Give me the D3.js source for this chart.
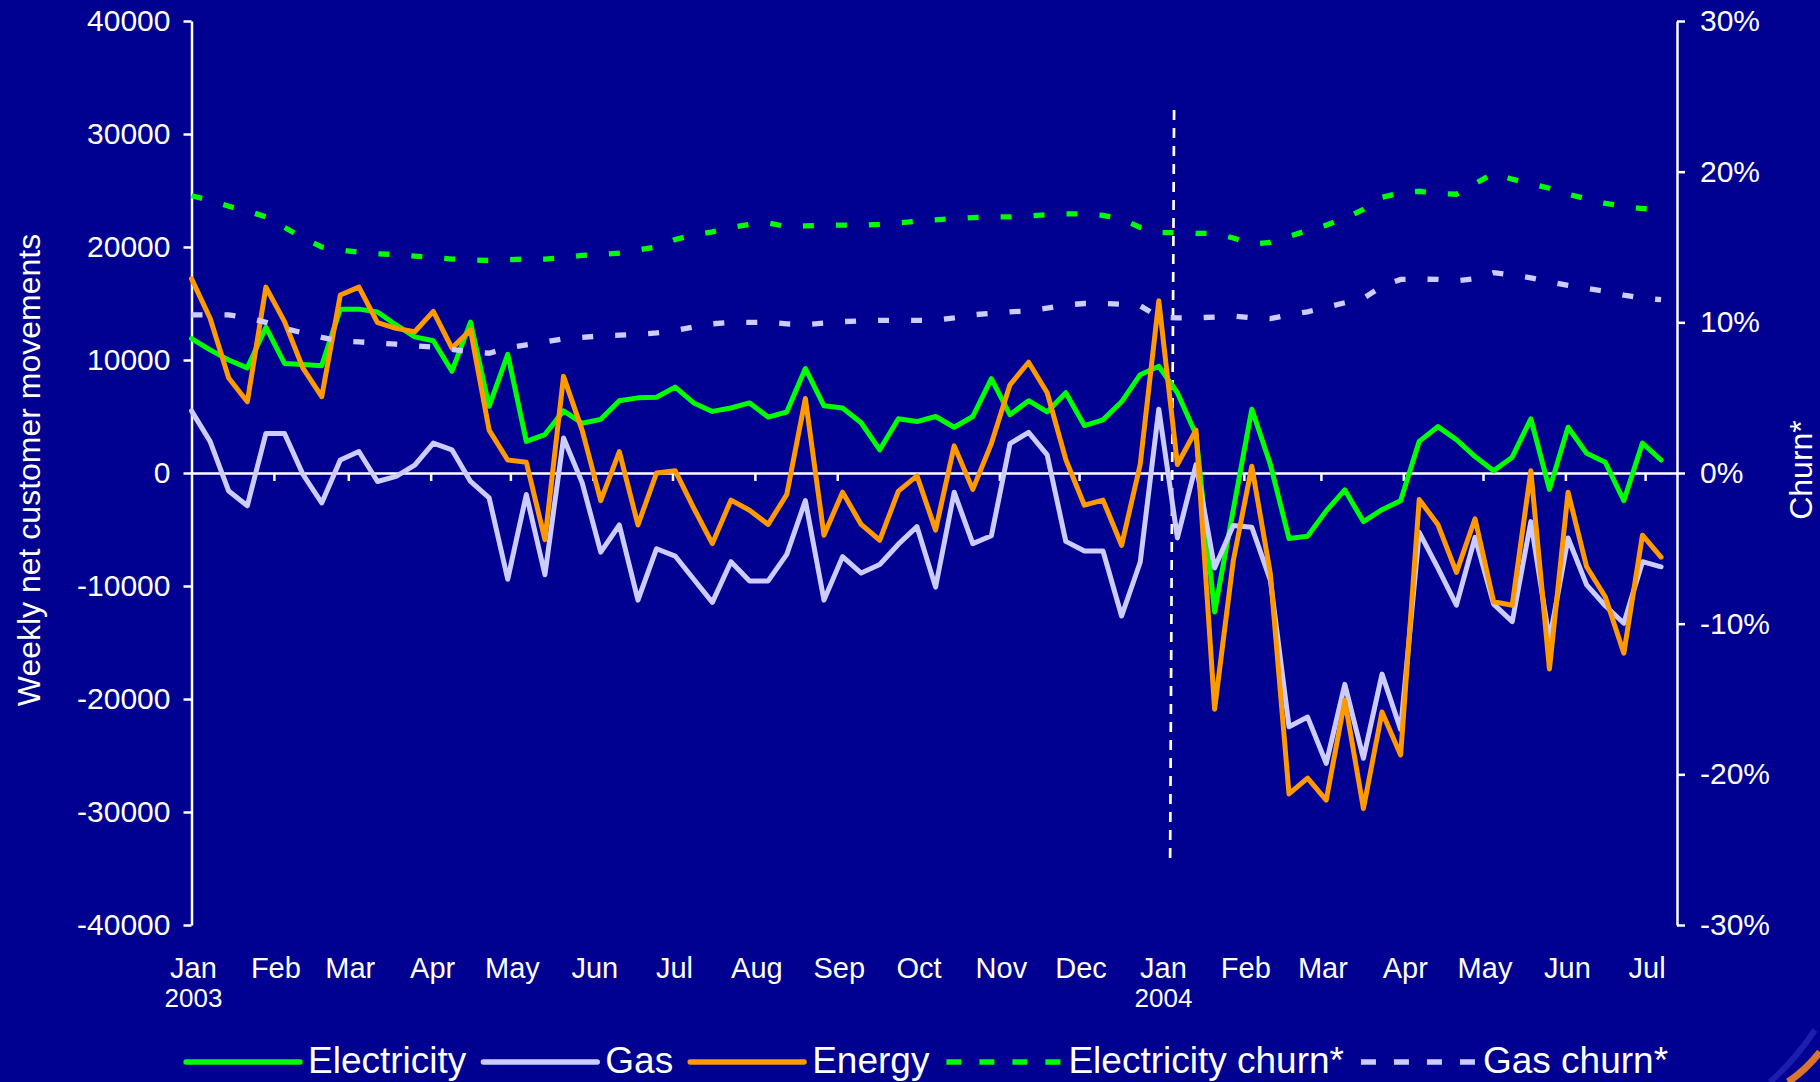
<!DOCTYPE html>
<html><head><meta charset="utf-8">
<script src="https://cdn.jsdelivr.net/npm/d3@7"></script>
<style>
html,body{margin:0;padding:0;background:#000091;overflow:hidden;}
svg{display:block;}
text{font-family:"Liberation Sans",Arial,Helvetica,sans-serif;fill:#ffffff;}
</style></head><body>
<svg id="chart" width="1820" height="1082"></svg>
<script>
// ---------------- DATA ----------------
const startDate = "2003-01-01";          // first weekly observation
const weekCount = 80;                     // weekly observations
const electricity = [11900,10900,10000,9300,12900,9700,9600,9500,14500,14500,
  14250,13100,12050,11700,9000,13350,5900,10500,2800,3400,
  5500,4400,4750,6400,6650,6700,7600,6200,5450,5750,
  6200,4950,5400,9250,5950,5750,4450,2050,4800,4550,
  5000,4050,5000,8350,5150,6400,5400,7100,4200,4700,
  6300,8700,9450,7100,3400,-12300,-3300,5650,750,-5800,
  -5600,-3350,-1500,-4300,-3250,-2450,2800,4100,2950,1450,
  200,1400,4800,-1450,4050,1750,950,-2450,2650,1150];
const gas = [5500,2800,-1600,-2900,3500,3500,-150,-2650,1150,1900,
  -750,-300,700,2650,2050,-750,-2200,-9400,-1900,-9000,
  3100,-850,-7000,-4600,-11250,-6700,-7350,-9400,-11450,-7850,
  -9550,-9550,-7200,-2450,-11250,-7400,-8850,-8100,-6300,-4750,
  -10100,-1700,-6250,-5550,2600,3600,1600,-6050,-6900,-6900,
  -12650,-7900,5650,-5750,750,-8400,-4650,-4800,-9500,-22450,
  -21600,-25700,-18700,-25250,-17800,-22700,-5250,-8400,-11700,-5700,
  -11600,-13150,-4300,-14800,-5750,-9900,-11750,-13300,-7850,-8300];
const energy = [17200,13700,8400,6300,16450,13400,9250,6750,15750,16450,
  13300,12800,12500,14300,11050,12650,3800,1150,950,-5900,
  8550,3800,-2450,1900,-4600,0,200,-3100,-6250,-2400,
  -3300,-4550,-1900,6600,-5500,-1700,-4550,-5950,-1600,-250,
  -5050,2400,-1450,2600,7800,9800,7100,1200,-2850,-2400,
  -6400,750,15250,750,3800,-20900,-7800,600,-8950,-28400,
  -27000,-28950,-20100,-29700,-21150,-24950,-2350,-4550,-8800,-4050,
  -11400,-11700,200,-17350,-1700,-8300,-10950,-15950,-5500,-7450];
// churn, percent
const electricityChurn = [18.4,18.1,17.7,17.4,17.0,16.3,15.6,15.0,14.8,14.65,
  14.55,14.5,14.4,14.3,14.2,14.15,14.1,14.15,14.2,14.2,
  14.3,14.45,14.5,14.6,14.8,15.0,15.5,15.8,16.0,16.3,
  16.5,16.6,16.35,16.4,16.45,16.45,16.45,16.5,16.6,16.7,
  16.8,16.9,16.95,17.0,17.0,17.05,17.15,17.2,17.2,17.1,
  16.85,16.3,15.95,15.95,15.9,15.9,15.6,15.2,15.3,15.7,
  16.1,16.45,16.9,17.5,18.3,18.6,18.7,18.55,18.5,19.2,
  19.9,19.5,19.2,18.9,18.5,18.2,17.9,17.7,17.55,17.5];
const gasChurn = [10.5,10.5,10.5,10.3,10.0,9.6,9.3,9.0,8.75,8.7,
  8.62,8.55,8.45,8.35,8.2,8.05,7.95,8.3,8.5,8.7,
  8.9,9.0,9.1,9.15,9.2,9.3,9.45,9.7,9.9,10.0,
  10.0,10.0,9.9,9.85,9.95,10.05,10.1,10.13,10.13,10.13,
  10.13,10.3,10.5,10.6,10.7,10.75,10.95,11.15,11.25,11.25,
  11.2,11.1,10.35,10.3,10.3,10.35,10.42,10.3,10.25,10.5,
  10.7,11.0,11.3,11.6,12.4,12.85,12.87,12.85,12.75,12.9,
  13.3,13.15,12.95,12.7,12.45,12.25,12.05,11.8,11.6,11.5];
const leftTicks = [40000,30000,20000,10000,0,-10000,-20000,-30000,-40000];
const rightTicks = [30,20,10,0,-10,-20,-30];
const monthTicks = ["2003-01-01","2003-02-01","2003-03-01","2003-04-01","2003-05-01","2003-06-01",
  "2003-07-01","2003-08-01","2003-09-01","2003-10-01","2003-11-01","2003-12-01",
  "2004-01-01","2004-02-01","2004-03-01","2004-04-01","2004-05-01","2004-06-01","2004-07-01"];
const monthLabels = ["Jan","Feb","Mar","Apr","May","Jun","Jul","Aug","Sep","Oct","Nov","Dec",
  "Jan","Feb","Mar","Apr","May","Jun","Jul"];
const yearTicks = ["2003-01-01","2004-01-01"];
const yearLabels = ["2003","2004"];
const markerDate = "2004-01-05";
const seriesNames = ["Electricity","Gas","Energy","Electricity churn*","Gas churn*"];
const leftTitle = "Weekly net customer movements";
const rightTitle = "Churn*";

// ---------------- LAYOUT ----------------
const parse = s => new Date(s + "T00:00:00Z");
const start = parse(startDate);
const dates = d3.range(weekCount).map(i => d3.utcDay.offset(start, 7 * i));

const L = 191.5, R = 1677, T = 21, B = 925;
const x = d3.scaleUtc().domain([parse("2003-01-01"), parse("2004-07-13")]).range([L, R]);
const y = d3.scaleLinear().domain([-40000, 40000]).range([B, T]);
const y2 = d3.scaleLinear().domain([-30, 30]).range([B, T]);

const colors = {elec: "#00ff00", gas: "#ccccff", energy: "#ff9900"};
const svg = d3.select("#chart");
svg.append("rect").attr("width", 1820).attr("height", 1082).attr("fill", "#000091");

const FONT = '"Liberation Sans", Arial, Helvetica, sans-serif';

function styleAxis(g, size) {
  g.attr("font-family", FONT).attr("font-size", size);
  g.selectAll("path.domain").attr("stroke", "#fff").attr("stroke-width", 2.5);
  g.selectAll(".tick line").attr("stroke", "#fff").attr("stroke-width", 2.5);
  g.selectAll(".tick text").attr("fill", "#fff");
}

// left axis
const gL = svg.append("g").attr("transform", `translate(${L},0)`)
  .call(d3.axisLeft(y).tickValues(leftTicks).tickSize(8).tickSizeOuter(0).tickPadding(13)
    .tickFormat(d => String(d)));
styleAxis(gL, 30);

// right axis
const gR = svg.append("g").attr("transform", `translate(${R},0)`)
  .call(d3.axisRight(y2).tickValues(rightTicks).tickSize(8).tickSizeOuter(0).tickPadding(15)
    .tickFormat(d => String(d) + "%"));
styleAxis(gR, 30);

// zero line / x axis with month ticks
const gX = svg.append("g").attr("transform", `translate(0,${y(0)})`)
  .call(d3.axisBottom(x).tickValues(monthTicks.slice(1).map(parse)).tickSize(8).tickSizeOuter(0)
    .tickFormat(""));
styleAxis(gX, 30);

// month labels
svg.append("g").selectAll("text").data(monthTicks).join("text")
  .attr("x", d => x(parse(d)) + 2).attr("y", 978)
  .attr("text-anchor", "middle").attr("font-size", 29).attr("font-family", FONT)
  .text((d, i) => monthLabels[i]);
svg.append("g").selectAll("text").data(yearTicks).join("text")
  .attr("x", d => x(parse(d)) + 2).attr("y", 1007)
  .attr("text-anchor", "middle").attr("font-size", 26).attr("font-family", FONT)
  .text((d, i) => yearLabels[i]);

// axis titles
svg.append("text").attr("transform", "translate(29,470) rotate(-90)")
  .attr("text-anchor", "middle").attr("dominant-baseline", "central")
  .attr("font-size", 32).attr("font-family", FONT).text(leftTitle);
svg.append("text").attr("transform", "translate(1801,470) rotate(-90)")
  .attr("text-anchor", "middle").attr("dominant-baseline", "central")
  .attr("font-size", 32).attr("font-family", FONT).text(rightTitle);

// vertical marker
svg.append("line")
  .attr("x1", x(parse(markerDate)) + 2).attr("x2", x(parse(markerDate)) - 2)
  .attr("y1", 110).attr("y2", 865)
  .attr("stroke", "#fff").attr("stroke-width", 2.7).attr("stroke-dasharray", "10,8");

// series
const lineL = d3.line().x((d, i) => x(dates[i])).y(d => y(d));
const lineR = d3.line().x((d, i) => x(dates[i])).y(d => y2(d));

const solid = [
  {vals: electricity, color: colors.elec},
  {vals: gas, color: colors.gas},
  {vals: energy, color: colors.energy}
];
solid.forEach(s => {
  svg.append("path").attr("d", lineL(s.vals)).attr("fill", "none")
    .attr("stroke", s.color).attr("stroke-width", 5)
    .attr("stroke-linejoin", "round").attr("stroke-linecap", "round");
});
[{vals: electricityChurn, color: colors.elec}, {vals: gasChurn, color: colors.gas}].forEach(s => {
  svg.append("path").attr("d", lineR(s.vals)).attr("fill", "none")
    .attr("stroke", s.color).attr("stroke-width", 5.3)
    .attr("stroke-dasharray", "11,22").attr("stroke-linecap", "butt");
});

// legend
const legendItems = [
  {name: seriesNames[0], color: colors.elec, dash: null},
  {name: seriesNames[1], color: colors.gas, dash: null},
  {name: seriesNames[2], color: colors.energy, dash: null},
  {name: seriesNames[3], color: colors.elec, dash: "15,18"},
  {name: seriesNames[4], color: colors.gas, dash: "15,18"}
];
let lx = 186;
const ly = 1062;
legendItems.forEach(it => {
  const ln = svg.append("line").attr("x1", lx).attr("x2", lx + 114).attr("y1", ly).attr("y2", ly)
    .attr("stroke", it.color).attr("stroke-width", 5.3)
    .attr("stroke-linecap", it.dash ? "butt" : "round");
  if (it.dash) ln.attr("stroke-dasharray", it.dash);
  const t = svg.append("text").attr("x", lx + 122).attr("y", 1073)
    .attr("font-size", 37).attr("font-family", FONT).text(it.name);
  lx = lx + 122 + t.node().getComputedTextLength() + 17;
});

// corner decoration
svg.append("path").attr("d", "M1788,1082 Q1806,1070 1820,1052")
  .attr("fill", "none").attr("stroke", "#ff8a1a").attr("stroke-width", 7).attr("opacity", 0.85);
svg.append("path").attr("d", "M1770,1082 Q1795,1060 1815,1030")
  .attr("fill", "none").attr("stroke", "#3a3ad0").attr("stroke-width", 6).attr("opacity", 0.5);
</script>
</body></html>
